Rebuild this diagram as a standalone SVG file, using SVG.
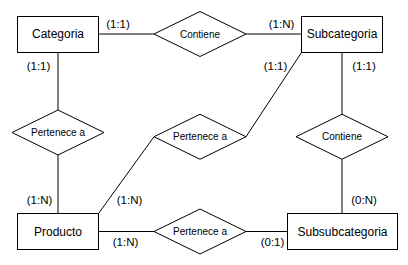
<svg xmlns="http://www.w3.org/2000/svg" width="408" height="265" viewBox="0 0 408 265">
  <style>
    .entity { fill: #ffffff; stroke: #000000; stroke-width: 1; }
    .rel { fill: #ffffff; stroke: #000000; stroke-width: 1; }
    .edge { fill: none; stroke: #000000; stroke-width: 1; }
    .ename { font-family: "Liberation Sans", Arial, sans-serif; font-size: 12px; fill: #000000; text-anchor: middle; }
    .rname { font-family: "Liberation Sans", Arial, sans-serif; font-size: 10px; fill: #000000; text-anchor: middle; }
    .card { font-family: "Liberation Sans", Arial, sans-serif; font-size: 11.5px; fill: #000000; text-anchor: middle; }
  </style>
  <rect width="408" height="265" fill="#ffffff"/>

  <!-- connectors -->
  <g id="connectors">
    <line class="edge" x1="98.5" y1="34" x2="154" y2="34"/>
    <line class="edge" x1="246" y1="34" x2="301.5" y2="34"/>
    <line class="edge" x1="58" y1="52.5" x2="58" y2="110"/>
    <line class="edge" x1="58" y1="155" x2="58" y2="213.5"/>
    <line class="edge" x1="98.5" y1="213.5" x2="154" y2="136.75"/>
    <line class="edge" x1="246" y1="136.75" x2="301.5" y2="52.5"/>
    <line class="edge" x1="342" y1="52.5" x2="342" y2="114.25"/>
    <line class="edge" x1="342" y1="159.25" x2="342" y2="213.5"/>
    <line class="edge" x1="98.5" y1="231.5" x2="154" y2="231.5"/>
    <line class="edge" x1="246" y1="231.5" x2="287.5" y2="231.5"/>
  </g>

  <!-- cardinalities -->
  <g id="cardinalities">
    <text class="card" x="118" y="28">(1:1)</text>
    <text class="card" x="281.5" y="27.5">(1:N)</text>
    <text class="card" x="38.5" y="70">(1:1)</text>
    <text class="card" x="275.5" y="70">(1:1)</text>
    <text class="card" x="364" y="70">(1:1)</text>
    <text class="card" x="39.5" y="203.5">(1:N)</text>
    <text class="card" x="129.5" y="203.5">(1:N)</text>
    <text class="card" x="364" y="203.5">(0:N)</text>
    <text class="card" x="125.5" y="246">(1:N)</text>
    <text class="card" x="272.5" y="246">(0:1)</text>
  </g>

  <!-- entities -->
  <g id="categoria">
    <rect class="entity" x="17.5" y="16.5" width="81" height="36"/>
    <text class="ename" x="58" y="38.3">Categoria</text>
  </g>
  <g id="subcategoria">
    <rect class="entity" x="301.5" y="16.5" width="81" height="36"/>
    <text class="ename" x="342" y="38.3">Subcategoria</text>
  </g>
  <g id="producto">
    <rect class="entity" x="17.5" y="213.5" width="81" height="36"/>
    <text class="ename" x="58" y="235.8">Producto</text>
  </g>
  <g id="subsubcategoria">
    <rect class="entity" x="287.5" y="213.5" width="110" height="36"/>
    <text class="ename" x="342.5" y="235.8">Subsubcategoria</text>
  </g>

  <!-- relationships -->
  <g id="contiene-cat-sub">
    <polygon class="rel" points="154,34 200,11.5 246,34 200,56.5"/>
    <text class="rname" x="200" y="37.6">Contiene</text>
  </g>
  <g id="pertenece-prod-cat">
    <polygon class="rel" points="12,132.5 58,110 104,132.5 58,155"/>
    <text class="rname" x="58" y="136.1">Pertenece a</text>
  </g>
  <g id="pertenece-prod-sub">
    <polygon class="rel" points="154,136.75 200,114.25 246,136.75 200,159.25"/>
    <text class="rname" x="200" y="140.35">Pertenece a</text>
  </g>
  <g id="contiene-sub-subsub">
    <polygon class="rel" points="296,136.75 342,114.25 388,136.75 342,159.25"/>
    <text class="rname" x="342" y="140.35">Contiene</text>
  </g>
  <g id="pertenece-prod-subsub">
    <polygon class="rel" points="154,231.5 200,209 246,231.5 200,254"/>
    <text class="rname" x="200" y="235.1">Pertenece a</text>
  </g>
</svg>
